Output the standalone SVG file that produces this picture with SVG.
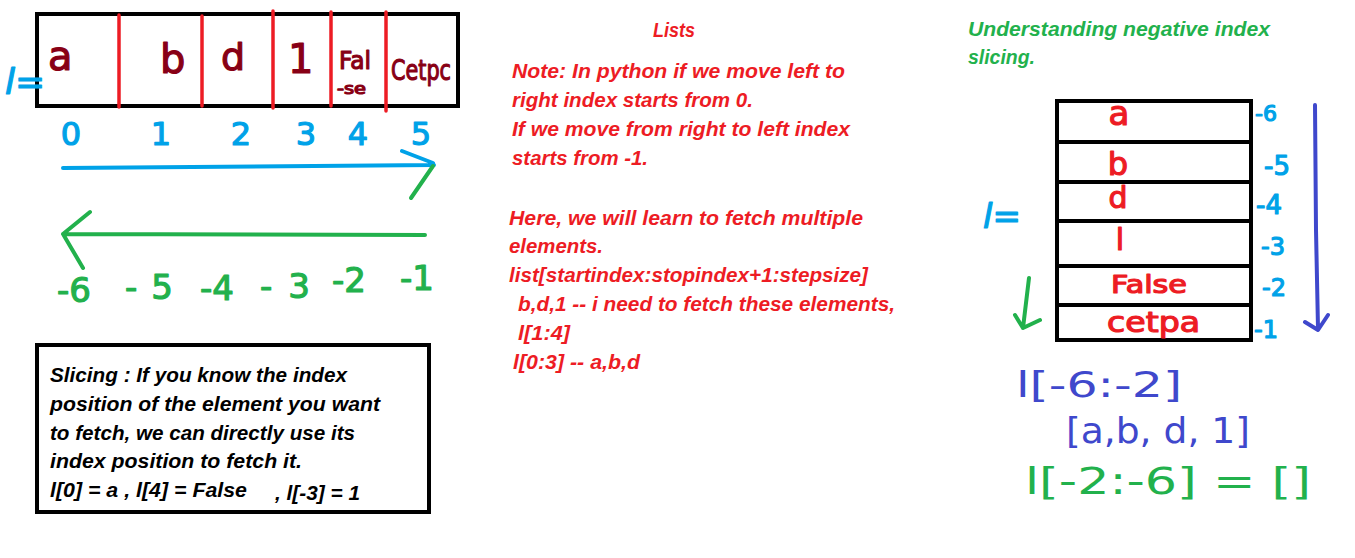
<svg xmlns="http://www.w3.org/2000/svg" width="1355" height="558" viewBox="0 0 1355 558">
<style>
.typed{font-family:"Liberation Sans",Arial,sans-serif;font-weight:bold;font-style:italic;font-size:21px}
.red{fill:#ED1C24}
.blk{fill:#000}
.grn{fill:#22B14C}
.hand{font-family:"DejaVu Sans","Liberation Sans",sans-serif;stroke-width:1.2;stroke-linejoin:round}
.thin{stroke-width:0}
.dred{fill:#880015;stroke:#880015}
.hred{fill:#ED1C24;stroke:#ED1C24}
.hblue{fill:#00A2E8;stroke:#00A2E8}
.hgrn{fill:#22B14C;stroke:#22B14C}
.hdb{fill:#3F48CC;stroke:#3F48CC}
.box{fill:none;stroke:#000;stroke-width:4}
.div{stroke:#ED1C24;stroke-width:3.5;stroke-linecap:round}
.hl{stroke:#000;stroke-width:4}
.ln{fill:none;stroke-width:4;stroke-linecap:round;stroke-linejoin:round}
</style>
<rect width="1355" height="558" fill="#fff"/>

<g id="list-horizontal">
<rect class="box" x="37" y="14" width="421" height="92"/>
<line class="div" x1="119" y1="15" x2="119" y2="107"/>
<line class="div" x1="202" y1="16" x2="202" y2="106"/>
<line class="div" x1="273" y1="11" x2="273" y2="108"/>
<line class="div" x1="331" y1="12" x2="331" y2="106"/>
<line class="div" x1="386" y1="12" x2="386" y2="111"/>
<text class="hand hblue" x="5" y="94" font-size="36" font-style="italic">l=</text>
<text class="hand dred" x="48" y="70" font-size="40">a</text>
<text class="hand dred" x="160" y="73" font-size="40">b</text>
<text class="hand dred" x="221" y="70" font-size="38">d</text>
<text class="hand dred" x="288" y="73" font-size="40">1</text>
<text class="hand dred" x="339" y="69" font-size="25" textLength="32" lengthAdjust="spacingAndGlyphs">Fal</text>
<text class="hand dred" x="337" y="94" font-size="15" textLength="29" lengthAdjust="spacingAndGlyphs">-se</text>
<text class="hand dred" x="391" y="80" font-size="28" textLength="60" lengthAdjust="spacingAndGlyphs">Cetpc</text>
</g>

<g id="positive-index">
<text class="hand hblue" x="71" y="145" font-size="32" text-anchor="middle">0</text>
<text class="hand hblue" x="161" y="145" font-size="32" text-anchor="middle">1</text>
<text class="hand hblue" x="241" y="145" font-size="32" text-anchor="middle">2</text>
<text class="hand hblue" x="306" y="145" font-size="32" text-anchor="middle">3</text>
<text class="hand hblue" x="358" y="145" font-size="32" text-anchor="middle">4</text>
<text class="hand hblue" x="421" y="145" font-size="32" text-anchor="middle">5</text>
</g>

<g id="negative-index">
<text class="hand hgrn" x="57" y="302" font-size="34">-6</text>
<text class="hand hgrn" x="125" y="299" font-size="34" textLength="48" lengthAdjust="spacing">-5</text>
<text class="hand hgrn" x="200" y="300" font-size="34">-4</text>
<text class="hand hgrn" x="260" y="298" font-size="34" textLength="50" lengthAdjust="spacing">- 3</text>
<text class="hand hgrn" x="332" y="292" font-size="34">-2</text>
<text class="hand hgrn" x="400" y="290" font-size="34">-1</text>
</g>

<g id="lists-notes">
<text class="typed red" x="653" y="37" textLength="42" lengthAdjust="spacingAndGlyphs">Lists</text>
<text class="typed red" x="512" y="78" textLength="333" lengthAdjust="spacingAndGlyphs">Note: In python if we move left to</text>
<text class="typed red" x="512" y="107" textLength="241" lengthAdjust="spacingAndGlyphs">right index starts from 0.</text>
<text class="typed red" x="512" y="136" textLength="338" lengthAdjust="spacingAndGlyphs">If we move from right to left index</text>
<text class="typed red" x="512" y="165" textLength="136" lengthAdjust="spacingAndGlyphs">starts from -1.</text>
<text class="typed red" x="509" y="225" textLength="354" lengthAdjust="spacingAndGlyphs">Here, we will learn to fetch multiple</text>
<text class="typed red" x="509" y="253" textLength="94" lengthAdjust="spacingAndGlyphs">elements.</text>
<text class="typed red" x="509" y="282" textLength="359" lengthAdjust="spacingAndGlyphs">list[startindex:stopindex+1:stepsize]</text>
<text class="typed red" x="518" y="311" textLength="377" lengthAdjust="spacingAndGlyphs">b,d,1 -- i need to fetch these elements,</text>
<text class="typed red" x="518" y="340" textLength="52" lengthAdjust="spacingAndGlyphs">l[1:4]</text>
<text class="typed red" x="513" y="369" textLength="127" lengthAdjust="spacingAndGlyphs">l[0:3] -- a,b,d</text>
</g>

<g id="slicing-box">
<rect class="box" x="37" y="345" width="392" height="167"/>
<text class="typed blk" x="50" y="382" textLength="297" lengthAdjust="spacingAndGlyphs">Slicing : If you know the index</text>
<text class="typed blk" x="50" y="411" textLength="330" lengthAdjust="spacingAndGlyphs">position of the element you want</text>
<text class="typed blk" x="50" y="440" textLength="305" lengthAdjust="spacingAndGlyphs">to fetch, we can directly use its</text>
<text class="typed blk" x="50" y="468" textLength="252" lengthAdjust="spacingAndGlyphs">index position to fetch it.</text>
<text class="typed blk" x="50" y="497" textLength="197" lengthAdjust="spacingAndGlyphs">l[0] = a  , l[4] = False</text>
<text class="typed blk" x="275" y="500" textLength="85" lengthAdjust="spacingAndGlyphs">, l[-3] = 1</text>
</g>

<g id="negative-title">
<text class="typed grn" x="968" y="36" textLength="302" lengthAdjust="spacingAndGlyphs">Understanding negative index</text>
<text class="typed grn" x="968" y="64" textLength="67" lengthAdjust="spacingAndGlyphs">slicing.</text>
</g>

<g id="list-vertical">
<rect class="box" x="1057" y="101" width="194" height="239"/>
<line class="hl" x1="1057" y1="142" x2="1253" y2="142"/>
<line class="hl" x1="1057" y1="182" x2="1251" y2="182"/>
<line class="hl" x1="1057" y1="221" x2="1253" y2="221"/>
<line class="hl" x1="1057" y1="266" x2="1251" y2="266"/>
<line class="hl" x1="1057" y1="305" x2="1251" y2="305"/>
<text class="hand hred" x="1119" y="125" font-size="34" text-anchor="middle">a</text>
<text class="hand hred" x="1118" y="175" font-size="32" text-anchor="middle">b</text>
<text class="hand hred" x="1118" y="208" font-size="30" text-anchor="middle">d</text>
<text class="hand hred" x="1120" y="250" font-size="30" text-anchor="middle">l</text>
<text class="hand hred" x="1111" y="293" font-size="24" textLength="76" lengthAdjust="spacingAndGlyphs">False</text>
<text class="hand hred" x="1107" y="332" font-size="28" textLength="93" lengthAdjust="spacingAndGlyphs">cetpa</text>
<text class="hand hblue" x="983" y="228" font-size="34" font-style="italic">l=</text>
<text class="hand hblue" x="1255" y="121" font-size="22">-6</text>
<text class="hand hblue" x="1264" y="175" font-size="26">-5</text>
<text class="hand hblue" x="1256" y="214" font-size="26">-4</text>
<text class="hand hblue" x="1261" y="255" font-size="24">-3</text>
<text class="hand hblue" x="1262" y="296" font-size="24">-2</text>
<text class="hand hblue" x="1254" y="338" font-size="24">-1</text>
</g>

<g id="negative-examples">
<text class="hand hdb thin" x="1016" y="397" font-size="36" textLength="166" lengthAdjust="spacingAndGlyphs">l[-6:-2]</text>
<text class="hand hdb thin" x="1066" y="443" font-size="36" textLength="184" lengthAdjust="spacingAndGlyphs">[a,b, d, 1]</text>
<text class="hand hgrn thin" x="1025" y="494" font-size="38" textLength="286" lengthAdjust="spacingAndGlyphs">l[-2:-6] = []</text>
</g>

<g id="connectors">
<path class="ln" stroke="#00A2E8" d="M63,168 L434,165 M402,151 L433,163"/>
<path class="ln" stroke="#22B14C" d="M433,166 L411,198"/>
<path class="ln" stroke="#22B14C" d="M425,235 L63,234 M90,212 L63,234 L83,268"/>
<path class="ln" stroke="#3F48CC" d="M1315,105 L1316,230 L1318,328 M1305,322 L1318,330 L1328,315"/>
<path class="ln" stroke="#22B14C" d="M1029,278 L1023,328 M1015,315 L1023,328 L1040,320"/>
</g>
</svg>
